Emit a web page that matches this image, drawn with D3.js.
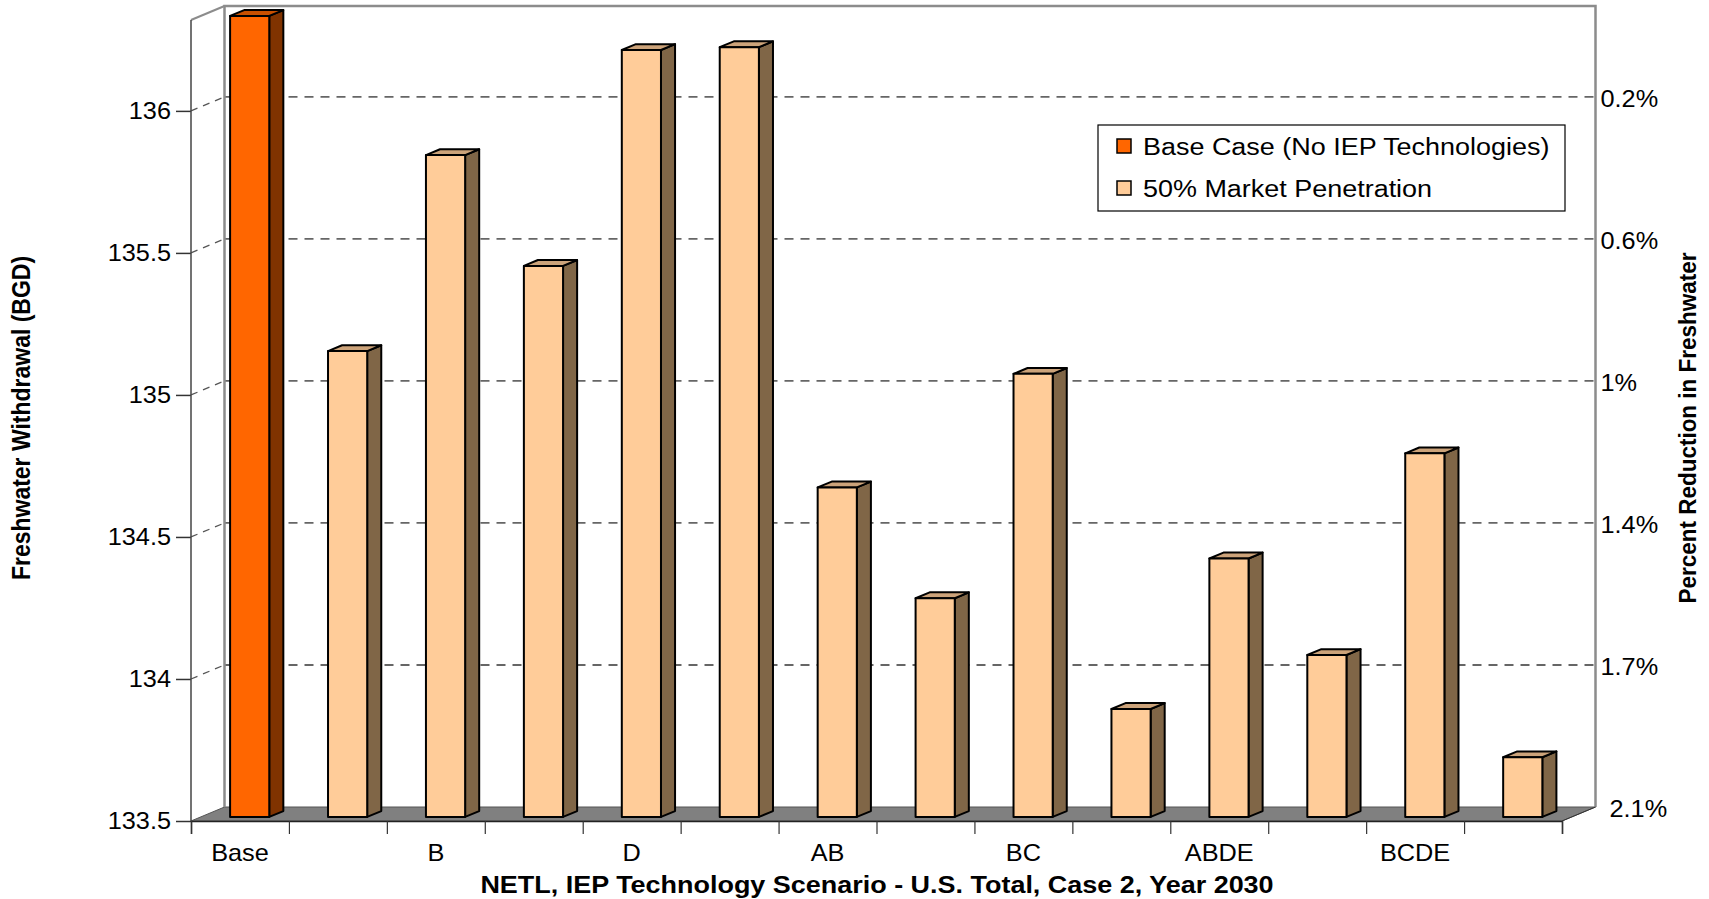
<!DOCTYPE html>
<html>
<head>
<meta charset="utf-8">
<script src="https://cdn.jsdelivr.net/npm/d3@7"></script>
<style>
  html, body { margin: 0; padding: 0; background: #fff; }
  svg { display: block; }
  text { font-family: "Liberation Sans", Arial, Helvetica, sans-serif; fill: #000; }
</style>
</head>
<body>
<svg id="chart" width="1709" height="899"></svg>
<script>
// Scenario names (only every other one is labelled on the axis)
const categories = ["Base", "A", "B", "C", "D", "E", "AB", "AC", "BC", "BD", "ABDE", "ACDE", "BCDE", "ABCDE"];
// Freshwater withdrawal, billion gallons per day
const baseCase = [136.32, null, null, null, null, null, null, null, null, null, null, null, null, null];
const marketPenetration = [null, 135.14, 135.83, 135.44, 136.20, 136.21, 134.66, 134.27, 135.06, 133.88, 134.41, 134.07, 134.78, 133.71];
// Axis ticks
const leftTicks = [133.5, 134, 134.5, 135, 135.5, 136];
const rightTickLabels = ["2.1%", "1.7%", "1.4%", "1%", "0.6%", "0.2%"];
const seriesNames = ["Base Case (No IEP Technologies)", "50% Market Penetration"];

const svg = d3.select("#chart");
const SX = 1.1; // horizontal stretch of the lettering

// frame geometry
const x0 = 191, x1 = 1562, yBottom = 821, yTop = 20;
const depth = { dx: 33.5, dy: -14 };
const tFront = 0.29, tBack = 0.71;

const y = d3.scaleLinear().domain([133.5, 136.32]).range([yBottom, yTop]);
const slot = d3.scaleBand().domain(categories).range([x0, x1]).padding(0);
const idx = d3.scaleLinear().domain([0, categories.length]).range([x0, x1]);

function label(g, x, yy, str, opts = {}) {
  const t = g.append("text")
    .attr("transform", `translate(${x},${yy}) scale(${SX},1)` + (opts.rotate ? ` rotate(${opts.rotate})` : ""))
    .attr("text-anchor", opts.anchor || "start")
    .attr("font-size", opts.size || 23)
    .attr("font-weight", opts.weight || "normal")
    .text(str);
  if (opts.baseline) t.attr("dy", opts.baseline);
  return t;
}

// back wall
const yMax = y.domain()[1];
svg.append("rect")
  .attr("x", x0 + depth.dx).attr("y", y(yMax) + depth.dy)
  .attr("width", x1 - x0).attr("height", y(133.5) - y(yMax))
  .attr("fill", "#fff");

// floor
svg.append("path")
  .attr("d", `M${x0},${yBottom} L${x1},${yBottom} L${x1 + depth.dx},${yBottom + depth.dy} L${x0 + depth.dx},${yBottom + depth.dy} Z`)
  .attr("fill", "#808080").attr("stroke", "#555").attr("stroke-width", 1);

// gridlines: along side wall and across back wall
const grid = svg.append("g");
leftTicks.filter(v => v > 133.5).forEach(v => {
  grid.append("line")
    .attr("x1", x0).attr("y1", y(v)).attr("x2", x0 + depth.dx).attr("y2", y(v) + depth.dy)
    .attr("stroke", "#555").attr("stroke-width", 1.3).attr("stroke-dasharray", "7,6");
  grid.append("line")
    .attr("x1", x0 + depth.dx).attr("y1", y(v) + depth.dy).attr("x2", x1 + depth.dx).attr("y2", y(v) + depth.dy)
    .attr("stroke", "#666").attr("stroke-width", 1.8).attr("stroke-dasharray", "9,7");
});

// wall edges
const walls = svg.append("g").attr("fill", "none");
walls.append("path")
  .attr("d", `M${x0 + depth.dx},${yBottom + depth.dy} L${x0 + depth.dx},${y(yMax) + depth.dy} L${x1 + depth.dx},${y(yMax) + depth.dy} L${x1 + depth.dx},${yBottom + depth.dy}`)
  .attr("stroke", "#8c8c8c").attr("stroke-width", 2.5);
walls.append("path")
  .attr("d", `M${x0},${y(yMax)} L${x0 + depth.dx},${y(yMax) + depth.dy}`)
  .attr("stroke", "#8c8c8c").attr("stroke-width", 2);

// bars
const step = slot.step();
const w = step * 0.4;
const bdx = (tBack - tFront) * depth.dx, bdy = (tBack - tFront) * depth.dy;
const colours = [
  { front: "#FF6600", side: "#803300", top: "#C85000" },
  { front: "#FFCC99", side: "#806647", top: "#CCA37A" }
];
const barData = categories.map((c, i) => {
  const s = baseCase[i] != null ? 0 : 1;
  return { c, v: s === 0 ? baseCase[i] : marketPenetration[i], s };
});
const bars = svg.append("g").selectAll("g").data(barData).join("g")
  .attr("stroke", "#000").attr("stroke-width", 2).attr("stroke-linejoin", "round");
bars.each(function (d) {
  const g = d3.select(this);
  const bx = slot(d.c) + tFront * depth.dx + (step - w) / 2;
  const by = y(d.v) + tFront * depth.dy;
  const bb = y(133.5) + tFront * depth.dy;
  const col = colours[d.s];
  g.append("path")
    .attr("d", `M${bx + w},${by} L${bx + w + bdx},${by + bdy} L${bx + w + bdx},${bb + bdy} L${bx + w},${bb} Z`)
    .attr("fill", col.side);
  g.append("path")
    .attr("d", `M${bx},${by} L${bx + bdx},${by + bdy} L${bx + w + bdx},${by + bdy} L${bx + w},${by} Z`)
    .attr("fill", col.top);
  g.append("rect").attr("x", bx).attr("y", by).attr("width", w).attr("height", bb - by)
    .attr("fill", col.front);
});

// left value axis
const yAxis = svg.append("g").attr("transform", `translate(${x0},0)`)
  .call(d3.axisLeft(y).tickValues(leftTicks).tickSize(15).tickPadding(5).tickFormat(d3.format("")))
  .call(g => g.select(".domain").remove());
yAxis.selectAll(".tick line").attr("stroke", "#333").attr("stroke-width", 1.5);
yAxis.selectAll(".tick text").each(function () {
  const t = d3.select(this);
  t.attr("x", null).attr("transform", `translate(-20,0) scale(${SX},1)`)
    .attr("font-size", 23).attr("font-family", null).attr("fill", "#000");
});
yAxis.attr("font-family", null).attr("font-size", null);
svg.append("line")
  .attr("x1", x0).attr("x2", x0).attr("y1", y(yMax)).attr("y2", yBottom)
  .attr("stroke", "#444").attr("stroke-width", 1.5);

// bottom category axis with boundary ticks
const xAxis = svg.append("g").attr("transform", `translate(0,${yBottom})`)
  .call(d3.axisBottom(idx).tickValues(d3.range(categories.length + 1)).tickSize(13).tickFormat(""));
xAxis.select(".domain").attr("stroke", "#222").attr("stroke-width", 1.5);
xAxis.selectAll(".tick line").attr("stroke", "#333").attr("stroke-width", 1.2);
svg.append("line")
  .attr("x1", x1).attr("y1", yBottom).attr("x2", x1 + depth.dx).attr("y2", yBottom + depth.dy)
  .attr("stroke", "#333").attr("stroke-width", 1);

const catLabels = svg.append("g");
categories.forEach((c, i) => {
  if (i % 2 === 0) label(catLabels, slot(c) + step / 2, 861, c, { anchor: "middle" });
});

// right percent-reduction labels on the back wall
const right = svg.append("g");
leftTicks.forEach((v, i) => {
  const xx = v === 133.5 ? x1 + depth.dx + 14 : x1 + depth.dx + 5;
  label(right, xx, y(v) + depth.dy + 2, rightTickLabels[i], { baseline: "0.35em" });
});

// titles
const titles = svg.append("g");
label(titles, 30, 418, "Freshwater Withdrawal (BGD)", { anchor: "middle", weight: "bold", size: 23, rotate: -90 });
label(titles, 1696, 428, "Percent Reduction in Freshwater", { anchor: "middle", weight: "bold", size: 22.5, rotate: -90 });
label(titles, 877, 893, "NETL, IEP Technology Scenario - U.S. Total, Case 2, Year 2030", { anchor: "middle", weight: "bold", size: 24.5 });

// legend
const legend = svg.append("g").attr("transform", "translate(1098,125)");
legend.append("rect").attr("width", 467).attr("height", 86)
  .attr("fill", "#fff").attr("stroke", "#000").attr("stroke-width", 1.2);
seriesNames.forEach((name, i) => {
  const yy = 21 + i * 42;
  legend.append("rect").attr("x", 19).attr("y", yy - 7).attr("width", 14).attr("height", 14)
    .attr("fill", colours[i].front).attr("stroke", "#000").attr("stroke-width", 1.5);
  label(legend, 45, yy, name, { baseline: "0.35em", size: 24.5 });
});
</script>
</body>
</html>
